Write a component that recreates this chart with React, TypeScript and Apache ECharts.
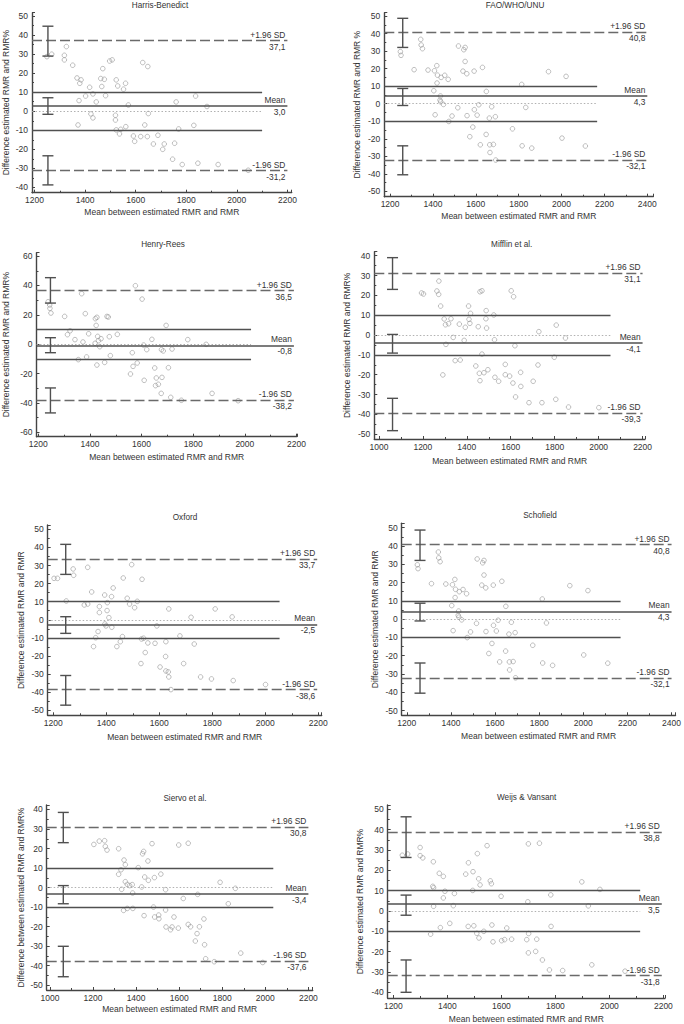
import React, { useEffect, useRef } from 'react';
import * as echarts from 'echarts';

const titles = ['Harris-Benedict', 'FAO/WHO/UNU', 'Henry-Rees', 'Mifflin et al.', 'Oxford', 'Schofield', 'Siervo et al.', 'Weijs & Vansant'];
const yNames = [
  'Difference estimated RMR and RMR%',
  'Difference estimated RMR and RMR %',
  'Difference estimated RMR and RMR%',
  'Difference estimated RMR and RMR%',
  'Difference estimated RMR and RMR',
  'Difference estimated RMR and RMR',
  'Difference between estimated RMR and RMR%',
  'Difference estimated RMR and RMR%',
];
const xName = 'Mean between estimated RMR and RMR';

const harrisPoints = [
  [1249, 28.7], [1268, 30], [1318, 27], [1318, 29.4], [1326, 34], [1351, 24.2], [1368, 17.5], [1384, 16.5],
  [1379, 14.7], [1376, 5.6], [1372, -7.2], [1402, 8], [1418, 12.6], [1431, 9.1], [1444, 4.9], [1423, -1.4],
  [1431, -3.5], [1462, 17.2], [1470, 22.4], [1476, 16.8], [1466, 13], [1481, 8.2], [1497, 26.4], [1507, 27],
  [1523, 16.5], [1529, 13.3], [1552, 11.6], [1560, 14.7], [1571, 3.3], [1520, -2.1], [1520, -4.6], [1523, -9.8],
  [1536, -11.9], [1541, -9.5], [1561, -8.1], [1591, -13], [1596, -15.8], [1620, -13.3], [1636, -7.2], [1646, -13.3],
  [1650, -1.2], [1628, 25.6], [1648, 23.5], [1670, -17.2], [1688, -12.6], [1707, -20], [1713, -17.2], [1746, -25.2],
  [1754, -16.8], [1760, 4.9], [1770, -9.3], [1784, -28], [1837, 8], [1830, -7.4], [1846, -27.3], [1882, 2.5],
  [1926, -28], [2045, -31],
];
const faoPoints = [
  [1248, 29.7], [1251, 27.6], [1343, 36.7], [1345, 33.5], [1351, 31.4], [1312, 19.4], [1377, 19.2], [1407, 18.8],
  [1418, 21.7], [1421, 16.3], [1419, 11.8], [1404, 7.4], [1438, 15], [1455, 16.2], [1471, 13.9], [1435, 4.4],
  [1433, 2.1], [1436, 1.1], [1449, -0.4], [1410, -6.3], [1474, -10.1], [1489, -7], [1519, 32.9], [1544, 30.8],
  [1550, 32.1], [1550, 24.1], [1540, 18.6], [1558, 17.1], [1592, 18.6], [1631, 20.7], [1516, -2.3], [1559, -6.8],
  [1593, -3.4], [1606, -6.5], [1614, -0.6], [1586, -13.3], [1572, -18.8], [1621, -23.4], [1648, -17.5], [1649, 7],
  [1663, -8.2], [1674, -1.7], [1691, -7.4], [1665, -23.4], [1682, -23.2], [1666, -27.8], [1693, -32.1], [1771, -14.3],
  [1814, 11], [1833, -2.1], [1816, -24], [1861, -25.3], [1939, 18.3], [2021, 15.6], [2002, -19.6], [2111, -24.1],
];
const henryPoints = [
  [1238, 28.9], [1244, 26.7], [1245, 24.4], [1249, 21.2], [1302, 18.9], [1323, 9.1], [1313, 6.5], [1342, 3.1],
  [1368, 34.4], [1382, 20.8], [1373, 1.5], [1355, -10.5], [1387, -8.7], [1395, 7.1], [1421, 17.4], [1427, 18.3],
  [1424, 12.8], [1430, 5.3], [1433, 2.4], [1420, 0.6], [1438, -1.7], [1443, 3.7], [1427, -14.2], [1466, 18.9],
  [1471, 18.5], [1475, 5.1], [1479, -7.8], [1457, -12.4], [1506, 6.7], [1576, 39.8], [1602, 30.7], [1564, -5.8],
  [1567, -15.1], [1583, -12.8], [1557, -20.3], [1608, -0.6], [1620, -3.7], [1610, -24.6], [1640, 3.3], [1651, -16.2],
  [1657, -23], [1654, -28.2], [1665, -27.3], [1679, -22.6], [1676, -33.5], [1677, -3.7], [1684, -4.6], [1695, 12.8],
  [1704, -16], [1718, -3.3], [1713, -36.2], [1754, -38.2], [1779, 3.1], [1850, -0.1], [1873, -33.5], [1974, -38.5],
];
const mifflinPoints = [
  [1194, 21.2], [1203, 20.7], [1264, 22.2], [1272, 20.5], [1273, 27.2], [1281, 14.6], [1297, 8.1], [1303, 5.2],
  [1317, 5.7], [1328, 8.2], [1305, -4.7], [1338, -1.2], [1291, -20.1], [1347, -12.9], [1370, -12.6], [1366, 5.5],
  [1393, 3.9], [1388, -2.7], [1408, 14.6], [1417, 10.9], [1410, 7.9], [1414, 5.9], [1452, 4.2], [1441, -15.6],
  [1457, -19.3], [1460, -23], [1478, -19], [1496, -17.5], [1460, 21.8], [1469, 22.3], [1469, -9.6], [1488, 12.3],
  [1487, 8.2], [1490, 3.5], [1523, 10.1], [1526, -2.4], [1528, -21.3], [1545, -23.3], [1602, 22.3], [1613, 19.3],
  [1619, -5.4], [1575, -14.8], [1575, -20], [1595, -20.7], [1610, -24.2], [1622, -31.2], [1645, -18.8], [1646, -25.9],
  [1683, -34.1], [1728, 1.7], [1724, -15.1], [1702, -23.3], [1742, -34.1], [1807, 5], [1798, -11.2], [1805, -32.4],
  [1849, -1.5], [1863, -36.3], [2001, -36.6],
];
const oxfordPoints = [
  [1203, 22.9], [1216, 22.9], [1249, 10.4], [1275, 28.1], [1277, 24.6], [1330, 29], [1317, 8.2], [1330, 8.7],
  [1345, 15.4], [1374, 7.3], [1374, 4], [1360, -9.9], [1352, -14.8], [1369, -6.5], [1394, 13.7], [1404, 9.5],
  [1403, 5.1], [1410, 1.2], [1399, -3.4], [1395, -2.3], [1421, -4.1], [1420, 12.8], [1426, 17.6], [1440, -14.8],
  [1453, -12.1], [1461, -9.3], [1464, 23.1], [1479, 11.9], [1488, 8.7], [1496, 30.5], [1507, 6.7], [1517, 10.2],
  [1535, 22.4], [1533, -10.6], [1541, -10.2], [1547, -18.1], [1531, -24.2], [1557, -12.8], [1584, -13], [1591, -3.4],
  [1603, -26.1], [1625, -12.1], [1624, -20.3], [1625, -28.3], [1634, -28.8], [1636, -31.6], [1644, -38.6], [1636, 6],
  [1678, -8.9], [1692, -24.2], [1732, -13.4], [1720, 1.4], [1756, -31.6], [1797, -32.7], [1811, 6], [1879, -33.6],
  [1875, 1.6], [2001, -35.8],
];
const schofieldPoints = faoPoints;
const siervoPoints = [
  [1204, 22.1], [1229, 23.8], [1254, 24], [1257, 21.1], [1265, 19.2], [1319, 19.9], [1319, 6.8], [1330, 9.1],
  [1333, -0.9], [1344, 14.1], [1350, 11.7], [1350, 3], [1359, 1.6], [1370, 1], [1382, 1.5], [1384, -2.8],
  [1342, -11.7], [1359, -10.7], [1385, -10.7], [1410, 10.2], [1430, 17.3], [1435, 18.5], [1455, 13.6], [1440, 5.4],
  [1457, 3.7], [1426, 0.3], [1474, 22.5], [1485, 5.1], [1515, 6.9], [1537, -1.1], [1437, -14.4], [1481, -10],
  [1486, -15.1], [1505, -14.1], [1506, -16], [1537, -11.5], [1539, -20.2], [1560, -21.6], [1567, -20.2], [1576, -15.1],
  [1596, -20.8], [1598, 21.8], [1642, 22.7], [1619, -5.6], [1642, -18.9], [1653, -20.1], [1686, -3.5], [1675, -27.4],
  [1683, -23.6], [1694, -20.1], [1715, -16.1], [1718, -29.3], [1723, -36.5], [1763, -38], [1790, 2.7], [1861, -0.4],
  [1828, -8.3], [1886, -33.6], [1988, -38.4],
];
const weijsPoints = [
  [1233, 27.4], [1253, 28], [1299, 31.2], [1299, 27.2], [1309, 26.1], [1348, 24.2], [1346, 12.1], [1349, 11.4],
  [1349, 2.3], [1370, 18.5], [1385, 17], [1391, 9.7], [1385, 6.4], [1426, 8.6], [1422, 2.6], [1374, -8.2],
  [1338, -11.4], [1409, -6.1], [1468, 18.1], [1478, 23.7], [1495, 19.3], [1494, 10.1], [1511, 28.2], [1516, 15.8],
  [1521, 12.8], [1547, 32.1], [1559, 14.8], [1563, 13.4], [1599, 7.2], [1477, -7.6], [1498, -7.3], [1509, -11],
  [1517, -13.3], [1535, -10], [1565, -6.9], [1569, -15.2], [1601, -14.6], [1612, -14.1], [1620, -8.4], [1638, -13.9],
  [1698, 4.5], [1700, 33], [1741, 33.3], [1694, -14.1], [1701, -11.1], [1700, -20.6], [1731, -13.9], [1727, -19.9],
  [1752, -24.1], [1778, -29], [1827, -29.3], [1783, 7.9], [1784, -7.6], [1898, 14.3], [1922, 2.5], [1935, -26.5],
  [1965, 10.6], [2058, -29.6],
];

// [upper +1.96 SD, mean, lower -1.96 SD]
const harrisLimits = [37.1, 3.0, -31.2];
const faoLimits = [40.8, 4.3, -32.1];
const henryLimits = [36.5, -0.8, -38.2];
const mifflinLimits = [31.1, -4.1, -39.3];
const oxfordLimits = [33.7, -2.5, -38.6];
const schofieldLimits = [40.8, 4.3, -32.1];
const siervoLimits = [30.8, -3.4, -37.6];
const weijsLimits = [38.8, 3.5, -31.8];

// confidence intervals [high, low] for upper limit, mean, lower limit
const harrisCI = [[44.7, 29.0], [7.1, -1.6], [-23.4, -38.7]];
const faoCI = [[48.7, 32.1], [8.7, -1.0], [-24.0, -40.5]];
const henryCI = [[45.3, 28.0], [4.4, -5.8], [-29.8, -46.8]];
const mifflinCI = [[39.0, 23.0], [0.3, -9.1], [-31.9, -48.2]];
const oxfordCI = [[41.7, 25.1], [1.7, -7.5], [-30.8, -47.2]];
const schofieldCI = [[48.7, 32.1], [8.7, -1.0], [-24.0, -40.5]];
const siervoCI = [[38.5, 23.0], [1.0, -8.3], [-30.1, -45.7]];
const weijsCI = [[46.3, 26.3], [7.8, -2.1], [-24.1, -40.0]];

const layouts = [
  { left: 30.7, top: 12.7, width: 261, height: 180, x: [1190, 2217], y: [-42.8, 51.8], yStep: 10, shortEnd: 2100, longEnd: 2200, barX: 1253, yGap: 22, xGap: 15, t: [160, 5] },
  { left: 384.3, top: 12.7, width: 269, height: 184, x: [1173, 2428], y: [-53, 51.9], yStep: 10, shortEnd: 2166, longEnd: 2400, barX: 1259, yGap: 22.5, xGap: 15, t: [515, 5] },
  { left: 34.3, top: 252.7, width: 262.7, height: 184, x: [1193, 2202], y: [-63, 62.3], yStep: 20, shortEnd: 2024, longEnd: 2190, barX: 1247, yGap: 26.5, xGap: 15.5, t: [163, 244] },
  { left: 374.3, top: 251.7, width: 270.7, height: 187.3, x: [979, 2211], y: [-52.4, 42], yStep: 10, shortEnd: 2054, longEnd: 2200, barX: 1062, yGap: 22.5, xGap: 17, t: [511.7, 244] },
  { left: 47.7, top: 525, width: 274, height: 190.3, x: [1179, 2213], y: [-52.8, 52.4], yStep: 10, shortEnd: 2054, longEnd: 2196, barX: 1247, yGap: 22.5, xGap: 17, t: [185, 517] },
  { left: 401.7, top: 523.3, width: 275.6, height: 192, x: [1177, 2418], y: [-52.6, 52.4], yStep: 10, shortEnd: 2169, longEnd: 2400, barX: 1260, yGap: 22, xGap: 16, t: [540, 515.5] },
  { left: 46.7, top: 805, width: 266, height: 185, x: [985, 2220], y: [-52.5, 42.3], yStep: 10, shortEnd: 2037, longEnd: 2200, barX: 1062, yGap: 21.5, xGap: 14.5, t: [185, 798] },
  { left: 387.7, top: 805, width: 277.3, height: 195, x: [1179, 2206], y: [-42.8, 52.1], yStep: 10, shortEnd: 2114, longEnd: 2194, barX: 1247, yGap: 23, xGap: 16, t: [526.7, 797.5] },
];

const panelPoints = [harrisPoints, faoPoints, henryPoints, mifflinPoints, oxfordPoints, schofieldPoints, siervoPoints, weijsPoints];
const panelLimits = [harrisLimits, faoLimits, henryLimits, mifflinLimits, oxfordLimits, schofieldLimits, siervoLimits, weijsLimits];
const panelCI = [harrisCI, faoCI, henryCI, mifflinCI, oxfordCI, schofieldCI, siervoCI, weijsCI];

const FONT = 'Liberation Sans, Arial, Helvetica, sans-serif';
const TEXT = '#333';
const AXIS = '#444';

const fmt = (v: number) => v.toFixed(1).replace('.', ',');
const stepFormatter = (step: number) => (v: number) =>
  Math.abs(v / step - Math.round(v / step)) < 1e-6 ? String(Math.round(v)) : '';

function buildOption() {
  const grid: any[] = [];
  const xAxis: any[] = [];
  const yAxis: any[] = [];
  const series: any[] = [];
  const graphic: any[] = [];

  const solid = { color: '#505050', width: 1.4, type: 'solid' };
  const meanStyle = { color: '#505050', width: 1.6, type: 'solid' };
  const dashed = { color: '#6a6a6a', width: 1.3, type: [10, 4] };
  const dotted = { color: '#a8a8a8', width: 0.9, type: [1.5, 2] };
  const hidden = { color: 'rgba(0,0,0,0)', width: 1, type: 'solid' };
  const lbl = (text: string, pos: string) => ({
    show: true, position: pos, formatter: text, color: TEXT, fontSize: 8.4, fontFamily: FONT, distance: 2,
  });

  layouts.forEach((L, i) => {
    grid.push({ left: L.left, top: L.top, width: L.width, height: L.height, containLabel: false });
    const tickStyle = { color: AXIS, width: 1 };
    xAxis.push({
      type: 'value', gridIndex: i, min: L.x[0], max: L.x[1], minInterval: 200, maxInterval: 200,
      name: xName, nameLocation: 'middle', nameGap: L.xGap,
      nameTextStyle: { fontSize: 8.5, color: TEXT, fontFamily: FONT },
      axisLine: { show: true, onZero: false, lineStyle: { color: AXIS, width: 1.4 } },
      axisTick: { show: true, inside: true, length: 3, lineStyle: tickStyle },
      minorTick: { show: true, splitNumber: 2, length: 2, lineStyle: tickStyle },
      splitLine: { show: false }, minorSplitLine: { show: false },
      axisLabel: { formatter: stepFormatter(200), fontSize: 8.5, color: TEXT, fontFamily: FONT, margin: 3 },
    });
    yAxis.push({
      type: 'value', gridIndex: i, min: L.y[0], max: L.y[1], minInterval: L.yStep, maxInterval: L.yStep,
      name: yNames[i], nameLocation: 'middle', nameGap: L.yGap,
      nameTextStyle: { fontSize: 8.5, color: TEXT, fontFamily: FONT },
      axisLine: { show: true, onZero: false, lineStyle: { color: AXIS, width: 1.4 } },
      axisTick: { show: true, inside: true, length: 3, lineStyle: tickStyle },
      minorTick: { show: true, splitNumber: 2, length: 2, lineStyle: tickStyle },
      splitLine: { show: false }, minorSplitLine: { show: false },
      axisLabel: { formatter: stepFormatter(L.yStep), fontSize: 8.5, color: TEXT, fontFamily: FONT, margin: 4 },
    });

    const [up, mean, lo] = panelLimits[i];
    const x0 = L.x[0];
    const seg = (xb: number, y: number, style: any, label?: any) => [
      { coord: [x0, y], lineStyle: style, label: label || { show: false } },
      { coord: [xb, y] },
    ];
    series.push({
      type: 'scatter', xAxisIndex: i, yAxisIndex: i, data: panelPoints[i],
      symbol: 'circle', symbolSize: 4.6,
      itemStyle: { color: 'rgba(255,255,255,0)', borderColor: '#999', borderWidth: 0.8 },
      z: 4,
      markLine: {
        silent: true, symbol: ['none', 'none'], animation: false, label: { show: false },
        data: [
          seg(L.shortEnd, 0, dotted),
          seg(L.shortEnd, 10, solid),
          seg(L.shortEnd, -10, solid),
          seg(L.longEnd, mean, meanStyle, lbl('Mean', 'insideEndTop')),
          seg(L.longEnd, mean, hidden, lbl(fmt(mean), 'insideEndBottom')),
          seg(L.longEnd, up, dashed, lbl('+1.96 SD', 'insideEndTop')),
          seg(L.longEnd, up, hidden, lbl(fmt(up), 'insideEndBottom')),
          seg(L.longEnd, lo, dashed, lbl('-1.96 SD', 'insideEndTop')),
          seg(L.longEnd, lo, hidden, lbl(fmt(lo), 'insideEndBottom')),
        ],
      },
    });
    series.push({
      type: 'custom', xAxisIndex: i, yAxisIndex: i, silent: true, clip: false, z: 5,
      data: panelCI[i].map(([hi, low]) => [L.barX, hi, low]),
      encode: { x: 0, y: [1, 2] },
      renderItem: (params: any, api: any) => {
        const x = api.value(0);
        const top = api.coord([x, api.value(1)]);
        const bot = api.coord([x, api.value(2)]);
        const hw = 5.5;
        const st = { stroke: '#505050', lineWidth: 1.4 };
        return {
          type: 'group',
          children: [
            { type: 'line', shape: { x1: top[0], y1: top[1], x2: bot[0], y2: bot[1] }, style: st },
            { type: 'line', shape: { x1: top[0] - hw, y1: top[1], x2: top[0] + hw, y2: top[1] }, style: st },
            { type: 'line', shape: { x1: bot[0] - hw, y1: bot[1], x2: bot[0] + hw, y2: bot[1] }, style: st },
          ],
        };
      },
    });
    graphic.push({
      type: 'text', x: L.t[0], y: L.t[1],
      style: { text: titles[i], fill: TEXT, fontSize: 8.2, fontFamily: FONT, align: 'center', verticalAlign: 'middle' },
    });
  });

  return {
    animation: false,
    backgroundColor: '#fff',
    textStyle: { fontFamily: FONT },
    grid, xAxis, yAxis, series, graphic,
  };
}

export default function App() {
  const ref = useRef<HTMLDivElement>(null);
  useEffect(() => {
    const chart = echarts.init(ref.current as HTMLDivElement, null, { renderer: 'svg' });
    chart.setOption(buildOption() as any);
    return () => chart.dispose();
  }, []);
  return (
    <div
      ref={ref}
      style={{ position: 'absolute', left: 0, top: 0, width: 684, height: 1024, background: '#fff' }}
    />
  );
}
